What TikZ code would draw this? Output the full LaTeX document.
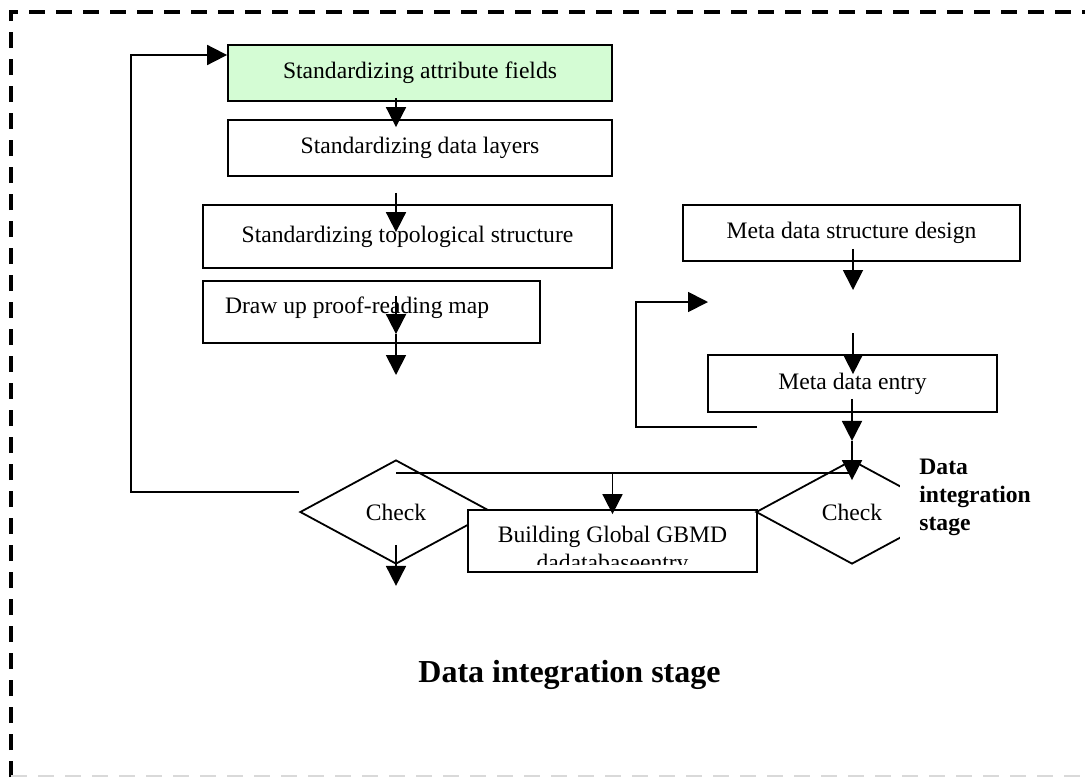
\documentclass[tikz,border=0pt]{standalone}
\usepackage{fontspec}
\setmainfont{Liberation Serif}
\usetikzlibrary{arrows.meta,shapes.geometric}
\definecolor{fieldgreen}{HTML}{D4FCD4}
\definecolor{framegray}{HTML}{D9D9D9}

\begin{document}
\begin{tikzpicture}[x=0.5pt,y=-0.5pt,
  font=\fontsize{11.8pt}{14pt}\selectfont,
  box/.style={draw=black,line width=0.9pt,fill=white,inner sep=0pt,align=center},
  check/.style={draw=black,line width=0.9pt,diamond,inner sep=0pt,
                minimum width=96pt,minimum height=52pt},
  arr/.style={-{Triangle[length=10pt,width=10pt]},line width=0.9pt},
  link/.style={line width=0.9pt},
  frame/.style={line width=2pt,dash pattern=on 8pt off 5.5pt}]

\useasboundingbox (0,0) rectangle (1085,777);

\draw[frame] (11,777) -- (11,12.3) -- (1085,12.3);
\draw[frame,draw=framegray,line width=1pt] (11,776) -- (1085,776);

% left column
\node[box,fill=fieldgreen,minimum width=192pt,minimum height=28pt] (attr) at (420,73)
      {Standardizing attribute fields};
\node[box,minimum width=192pt,minimum height=28pt] (layers) at (420,148)
      {Standardizing data layers};
\node[box,minimum width=204.5pt,minimum height=31.5pt] (topo) at (407.5,236.5)
      {Standardizing topological structure};
\node[box,text width=146.5pt,inner xsep=11pt,minimum height=31pt,align=flush left] (proof)
      at (371.5,312) {Draw up proof-reading map\rule[-7pt]{0pt}{7pt}};

% right column
\node[box,minimum width=168.5pt,minimum height=28pt] (meta) at (851.5,233)
      {Meta data structure design};
\node[box,minimum width=144.5pt,minimum height=28.5pt] (entry) at (852.5,383.5)
      {Meta data entry};

% checks and database
\node[check] (check1) at (396,512) {Check};
\node[box,minimum width=144.5pt,minimum height=31pt,
      path picture={
        \clip ([yshift=4pt]path picture bounding box.south west)
              rectangle (path picture bounding box.north east);
        \node[anchor=north,align=center,inner sep=0pt]
          at ([yshift=-4.5pt]path picture bounding box.north)
          {Building Global GBMD\\dadatabaseentry};}] (build) at (612.5,541) {};
\node[check] (check2) at (852,512) {Check};
\node[fill=white,anchor=north west,align=left,inner xsep=9.5pt,inner ysep=4pt,
      font=\fontsize{11.8pt}{13.8pt}\selectfont\bfseries] (side) at (900,451)
      {Data\\integration\\stage};

\node[anchor=base,font=\fontsize{16pt}{19pt}\selectfont\bfseries] (title) at (569.5,682)
      {Data integration stage};

\coordinate (proofend) at (396,375);
\coordinate (metaend) at (853,290);
\coordinate (entrystart) at (853,333);
\coordinate (loopin) at (708,302);
\coordinate (loopout) at (757,427);

\draw[arr] ([yshift=2pt]attr.south -| check1.center) -- ([yshift=-4pt]layers.north -| check1.center);
\draw[arr] ([yshift=-8pt]layers.south -| check1.center) -- ([yshift=-14pt]topo.north -| check1.center);
\draw[arr] ([yshift=-13.5pt]topo.south -| check1.center) -- ([yshift=-27pt]proof.north -| check1.center);
\draw[arr] ([yshift=-27pt]proof.north -| check1.center) -- (proofend);

\draw[arr] ([yshift=6.5pt]meta.south -| metaend) -- (metaend);
\draw[arr] (entrystart) -- ([yshift=-10pt]entry.north -| entrystart);
\draw[arr] ([yshift=7pt]entry.south -| check2.north) -- ([yshift=-14pt]entry.south -| check2.north);
\draw[link] ([yshift=-14pt]entry.south -| check2.north) -- (check2.north);
\draw[arr] (loopout) -- ++(-121,0) |- (loopin);

\draw[arr] ([yshift=10pt]check1.west) -- ++(-168,0) |- ([yshift=9pt]attr.west);
\draw[link] ([yshift=-7pt]check1.north) -- ([yshift=-7pt]check1.north -| check2.north);
\draw[arr] (check2.north) -- ([yshift=-10.5pt]check2.north);
\draw[arr] ([yshift=-7pt]check1.north -| build.north) -- ([yshift=-2.5pt]build.north);
\draw[arr] ([yshift=10pt]check1.south) -- ([yshift=-10.5pt]check1.south);
\end{tikzpicture}
\end{document}
